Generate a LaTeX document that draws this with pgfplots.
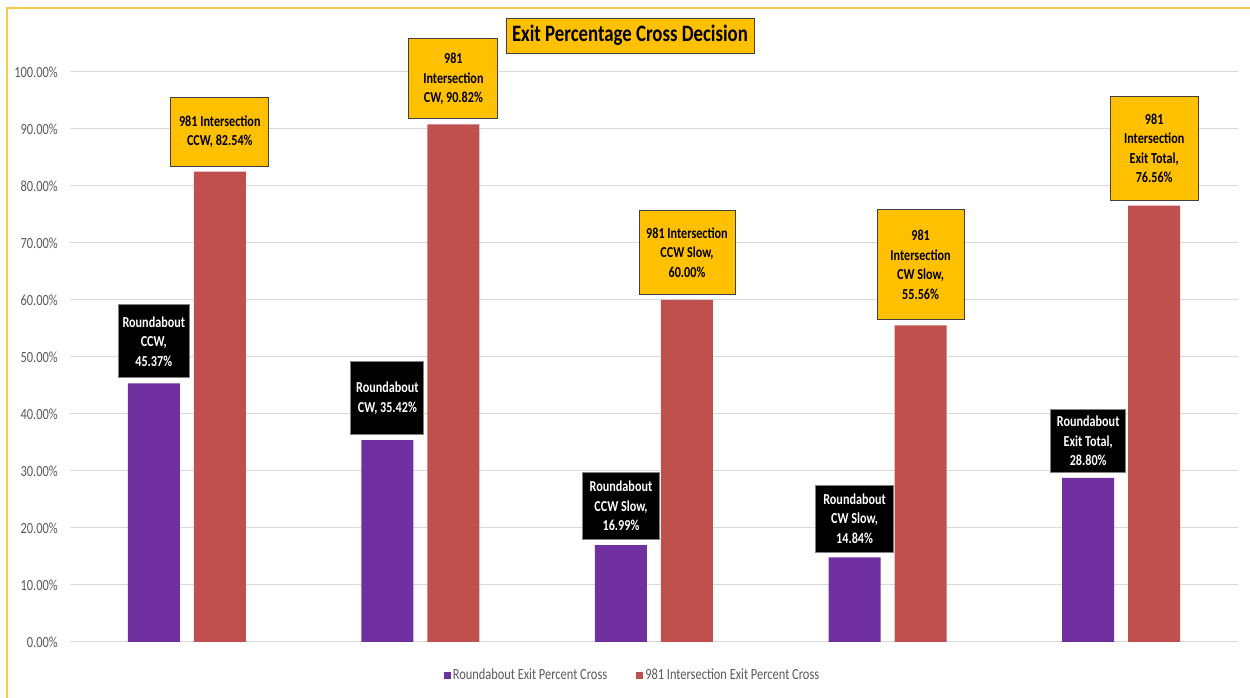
\documentclass[border=0pt]{standalone}
\usepackage{pgfplots}
\pgfplotsset{compat=1.18}
\usepackage{fontspec}
\setmainfont{Carlito}[FakeStretch=0.8]
\definecolor{rbpurple}{HTML}{7030A0}
\definecolor{inred}{HTML}{C0504D}
\definecolor{lblorange}{HTML}{FFC000}
\definecolor{gridgray}{HTML}{D9D9D9}
\definecolor{ticktext}{HTML}{595959}
\definecolor{frameyellow}{HTML}{F7C948}
\definecolor{boxedge}{HTML}{404040}
\DeclareRobustCommand\lb[3]{\parbox[c][#2bp][c]{#1bp}{\centering\fontsize{15.2bp}{19.5bp}\selectfont\bfseries #3\par}}
\begin{document}
\begin{tikzpicture}[x=1bp,y=1bp]
\useasboundingbox (0,0) rectangle (1250,698);
\draw[frameyellow, line width=1.5bp] (7,0) -- (7,690) -- (1250,690);
\begin{axis}[
  at={(70bp,56bp)}, anchor=south west,
  scale only axis, width=1168bp, height=570bp,
  xmin=-0.5, xmax=4.5, ymin=0, ymax=100,
  clip=false,
  axis line style={draw=none},
  xtick=\empty,
  ytick={0,10,...,100},
  major tick length=0pt,
  ymajorgrids, grid style={gridgray, line width=1bp},
  yticklabel={\pgfmathprintnumber[fixed,fixed zerofill,precision=2]{\tick}\%},
  /pgf/number format/assume math mode=true,
  yticklabel style={font=\fontsize{15.5bp}{17bp}\selectfont, text=ticktext, inner sep=0pt, xshift=-12bp},
  ybar, bar width=0.2226,
  point meta=explicit symbolic,
  nodes near coords,
  every node near coord/.append style={inner sep=0pt, line width=0.9bp, anchor=south, yshift=5bp},
  legend style={at={(0.4816,-0.0579)}, anchor=center, draw=none, fill=none,
    font=\fontsize{15.5bp}{17bp}\selectfont, text=ticktext,
    nodes={inner sep=2bp},
    /tikz/every even column/.append style={column sep=27bp}},
  legend columns=2,
  legend image code/.code={\fill[#1] (0bp,-3.5bp) rectangle (7bp,3.5bp);},
]
\addplot[fill=rbpurple, draw=none, bar shift=-0.1413,
  every node near coord/.append style={fill=black, draw=gray, text=white}]
  coordinates {
  (0,45.37) [{\lb{71}{73}{Roundabout\\CCW,\\45.37\%}}]
  (1,35.42) [{\lb{73}{73}{Roundabout\\CW, 35.42\%}}]
  (2,16.99) [{\lb{77}{67}{Roundabout\\CCW Slow,\\16.99\%}}]
  (3,14.84) [{\lb{78}{67}{Roundabout\\CW Slow,\\14.84\%}}]
  (4,28.80) [{\lb{75}{63}{Roundabout\\Exit Total,\\28.80\%}}]
  };
\addlegendentry{Roundabout Exit Percent Cross}
\addplot[fill=inred, draw=none, bar shift=0.1413,
  every node near coord/.append style={fill=lblorange, draw=boxedge, text=black}]
  coordinates {
  (0,82.54) [{\lb{98}{69}{981 Intersection\\CCW, 82.54\%}}]
  (1,90.82) [{\lb{89}{80}{981\\Intersection\\CW, 90.82\%}}]
  (2,60.00) [{\lb{96}{84}{981 Intersection\\CCW Slow,\\60.00\%}}]
  (3,55.56) [{\lb{87}{110}{981\\Intersection\\CW Slow,\\55.56\%}}]
  (4,76.56) [{\lb{88}{104}{981\\Intersection\\Exit Total,\\76.56\%}}]
  };
\addlegendentry{981 Intersection Exit Percent Cross}
\end{axis}
\node[fill=lblorange, draw=boxedge, line width=0.9bp, minimum width=248bp, minimum height=35bp, inner sep=0pt,
  font=\fontsize{23.5bp}{25bp}\selectfont\bfseries] at (630,662.5) {Exit Percentage Cross Decision};
\end{tikzpicture}
\end{document}
